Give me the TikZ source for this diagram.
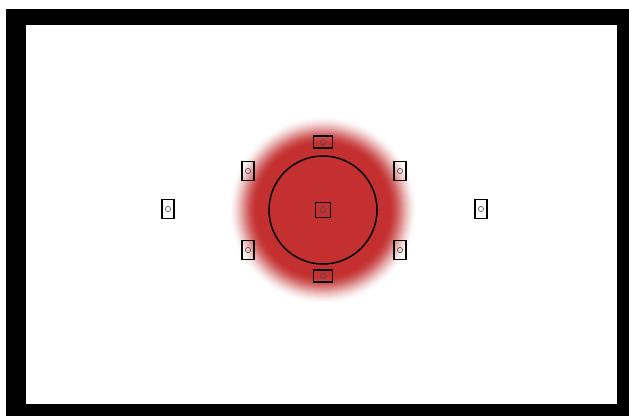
\documentclass[tikz,border=0pt]{standalone}
\definecolor{afred}{RGB}{196,48,48}
\tikzset{
  afh/.style={draw=black, line width=1.4pt, minimum width=19pt, minimum height=12pt, inner sep=0pt},
  afv/.style={draw=black, line width=1.4pt, minimum width=12pt, minimum height=19pt, inner sep=0pt},
  afc/.style={draw=black, line width=1.4pt, minimum width=15pt, minimum height=15pt, inner sep=0pt},
  dot/.style={draw=black!70, line width=0.6pt}
}
\begin{document}
\begin{tikzpicture}[x=1pt,y=-1pt]
\useasboundingbox (0,0) rectangle (629,416);
\fill[white] (0,0) rectangle (629,416);
\fill[black] (6,9) rectangle (629,416);
\fill[white] (26,25) rectangle (617,404);
\coordinate (o) at (323,210);
\foreach \i in {0,...,29} {
  \pgfmathsetmacro{\t}{\i/29}
  \pgfmathsetmacro{\m}{100*(3*\t*\t-2*\t*\t*\t)}
  \pgfmathsetmacro{\rr}{95-\i}
  \fill[afred!\m!white] (o) circle (\rr);
}
\node[draw, circle, line width=1.5pt, minimum size=108pt, inner sep=0pt] (ring) at (o) {};
\node[afc] (c) at (323,210) {};
\node[afh] (t) at (323,142) {};
\node[afh] (b) at (323,276) {};
\node[afv] (ul) at (248,171) {};
\node[afv] (ur) at (400,171) {};
\node[afv] (ll) at (248,250) {};
\node[afv] (lr) at (400,250) {};
\node[afv] (l) at (168,209) {};
\node[afv] (r) at (481,209) {};
\foreach \n in {c,t,b,ul,ur,ll,lr,l,r} \draw[dot] (\n.center) circle (2.6);
\end{tikzpicture}
\end{document}
